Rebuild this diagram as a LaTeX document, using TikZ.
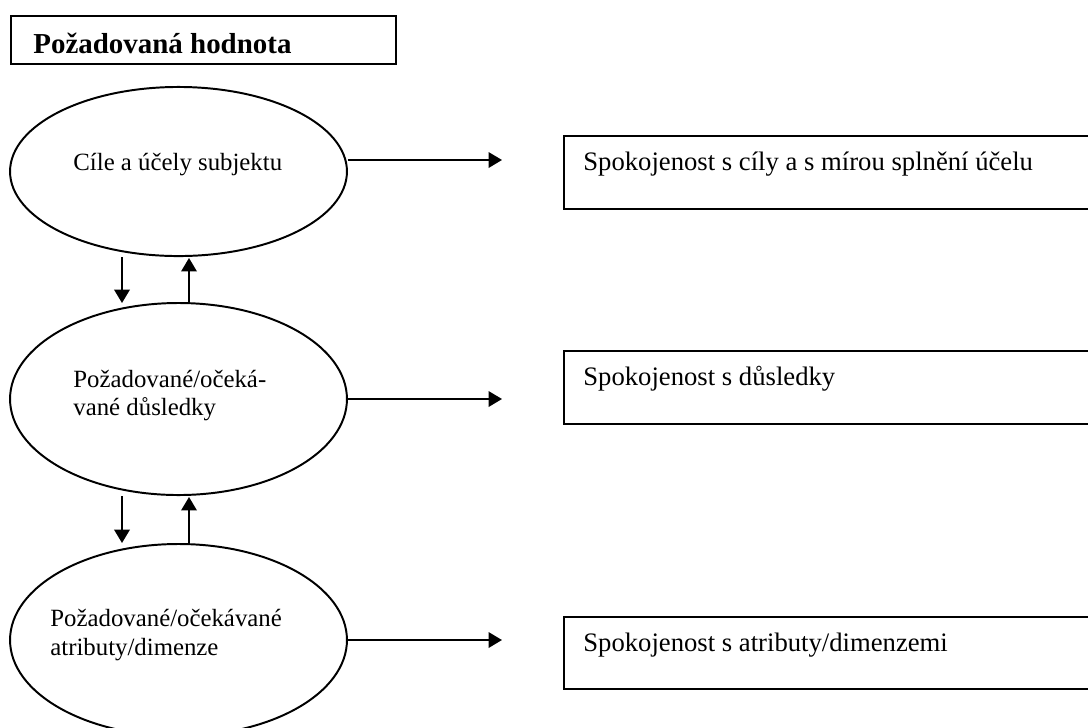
\documentclass[tikz,border=0pt]{standalone}
\usepackage{fontspec}
\setmainfont{Liberation Serif}
\usetikzlibrary{arrows.meta,shapes.geometric}
\begin{document}
\begin{tikzpicture}[x=0.4838pt,y=-0.4838pt,
  oval/.style={draw,ellipse,line width=0.95pt,inner sep=0pt,minimum width=163pt},
  frame/.style={draw,rectangle,line width=1.1pt,inner sep=0pt,anchor=north west,minimum width=262pt},
  label/.style={anchor=base west,inner sep=0pt,font=\fontsize{12}{14}\selectfont},
  boxlabel/.style={label,font=\fontsize{12.9}{15}\selectfont},
  arr/.style={line width=0.95pt,-{Triangle[length=6.5pt,width=7.5pt]}}]
\useasboundingbox (0,0) rectangle (1088,727);
\clip (0,0) rectangle (1088,727);

% heading
\node[draw,rectangle,line width=1pt,inner sep=0pt,anchor=north west,
      minimum width=186.3pt,minimum height=23.2pt] (head) at (10,15) {};
\node[anchor=base west,inner sep=0pt,font=\fontsize{14}{16}\selectfont\bfseries]
      (headtxt) at (33,53) {Požadovaná hodnota};

% the three levels
\node[oval,minimum height=81.8pt] (e1) at (178.5,171.5) {};
\node[oval,minimum height=92.9pt] (e2) at (178.5,399) {};
\node[oval,minimum height=92.9pt] (e3) at (178.5,640) {};

\node[label] (t1) at (73,170) {Cíle a účely subjektu};
\node[label] (t2a) at (73,387) {Požadované/očeká-};
\node[label] (t2b) at (73,415) {vané důsledky};
\node[label] (t3a) at (50,626) {Požadované/očekávané};
\node[label] (t3b) at (50,655) {atributy/dimenze};

% satisfaction boxes
\node[frame,minimum height=35.3pt] (b1) at (563,135) {};
\node[frame,minimum height=35.3pt] (b2) at (563,350) {};
\node[frame,minimum height=34.8pt] (b3) at (563,616) {};
\node[boxlabel] (s1) at (583,170) {Spokojenost s cíly a s mírou splnění účelu};
\node[boxlabel] (s2) at (583,385) {Spokojenost s důsledky};
\node[boxlabel] (s3) at (583,651) {Spokojenost s atributy/dimenzemi};

% arrow ends
\coordinate (h1) at (502,160);
\coordinate (tipx) at (502,0);
\coordinate (d1) at (122,303);
\coordinate (u1) at (189,258);
\coordinate (d2) at (122,543);
\coordinate (u2) at (189,497);

% horizontal arrows
\draw[arr] (e1.east |- h1) -- (h1);
\draw[arr] (e2.east) -- (e2.east -| tipx);
\draw[arr] (e3.east) -- (e3.east -| tipx);

% vertical arrows between levels
\draw[arr] (e1.south -| d1) -- (d1);
\draw[arr] (e2.north -| u1) -- (u1);
\draw[arr] (e2.south -| d2) -- (d2);
\draw[arr] (e3.north -| u2) -- (u2);
\end{tikzpicture}
\end{document}
